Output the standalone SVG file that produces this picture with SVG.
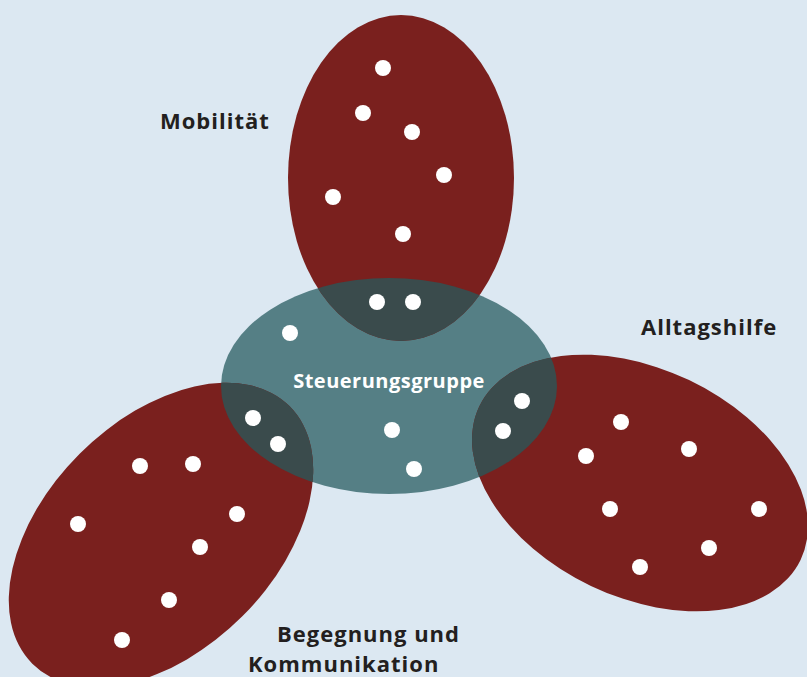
<svg xmlns="http://www.w3.org/2000/svg" width="807" height="677" viewBox="0 0 807 677">
<style>
.red{fill:#7a201e}
.teal{fill:#557f85}
.ov{fill:#3a4b4c}
.dot{fill:#ffffff}
.lbl{font-family:"Open Sans","Noto Sans","Liberation Sans",sans-serif;font-weight:bold;font-size:22px;fill:#231f20;letter-spacing:1px}
.ctr{font-family:"Open Sans","Noto Sans","Liberation Sans",sans-serif;font-weight:bold;font-size:20px;fill:#ffffff;letter-spacing:0.5px}
</style>
<defs>
<clipPath id="tealClip"><ellipse cx="389" cy="386" rx="168" ry="108"/></clipPath>
<ellipse id="eTop" cx="401" cy="178" rx="113" ry="163"/>
<ellipse id="eLeft" cx="0" cy="0" rx="182" ry="115" transform="translate(161 535) rotate(-45)"/>
<ellipse id="eRight" cx="0" cy="0" rx="178" ry="114" transform="translate(640 483) rotate(25.5)"/>
</defs>
<rect x="0" y="0" width="807" height="677" fill="#dce8f2"/>
<g id="steuerungsgruppe">
<ellipse class="teal" cx="389" cy="386" rx="168" ry="108"/>
</g>
<g id="mobilitaet">
<use href="#eTop" class="red"/>
<use href="#eTop" class="ov" clip-path="url(#tealClip)"/>
<circle class="dot" cx="383" cy="68" r="8"/>
<circle class="dot" cx="363" cy="113" r="8"/>
<circle class="dot" cx="412" cy="132" r="8"/>
<circle class="dot" cx="444" cy="175" r="8"/>
<circle class="dot" cx="333" cy="197" r="8"/>
<circle class="dot" cx="403" cy="234" r="8"/>
<circle class="dot" cx="377" cy="302" r="8"/>
<circle class="dot" cx="413" cy="302" r="8"/>
<text class="lbl" x="160" y="129">Mobilität</text>
</g>
<g id="begegnung">
<use href="#eLeft" class="red"/>
<use href="#eLeft" class="ov" clip-path="url(#tealClip)"/>
<circle class="dot" cx="253" cy="418" r="8"/>
<circle class="dot" cx="278" cy="444" r="8"/>
<circle class="dot" cx="140" cy="466" r="8"/>
<circle class="dot" cx="193" cy="464" r="8"/>
<circle class="dot" cx="78" cy="524" r="8"/>
<circle class="dot" cx="237" cy="514" r="8"/>
<circle class="dot" cx="200" cy="547" r="8"/>
<circle class="dot" cx="169" cy="600" r="8"/>
<circle class="dot" cx="122" cy="640" r="8"/>
<text class="lbl" x="277" y="642">Begegnung und</text>
<text class="lbl" x="248" y="672">Kommunikation</text>
</g>
<g id="alltagshilfe">
<use href="#eRight" class="red"/>
<use href="#eRight" class="ov" clip-path="url(#tealClip)"/>
<circle class="dot" cx="522" cy="401" r="8"/>
<circle class="dot" cx="503" cy="431" r="8"/>
<circle class="dot" cx="621" cy="422" r="8"/>
<circle class="dot" cx="586" cy="456" r="8"/>
<circle class="dot" cx="689" cy="449" r="8"/>
<circle class="dot" cx="610" cy="509" r="8"/>
<circle class="dot" cx="759" cy="509" r="8"/>
<circle class="dot" cx="709" cy="548" r="8"/>
<circle class="dot" cx="640" cy="567" r="8"/>
<text class="lbl" x="641" y="335">Alltagshilfe</text>
</g>
<g id="steuerungsgruppe-inhalt">
<circle class="dot" cx="290" cy="333" r="8"/>
<circle class="dot" cx="392" cy="430" r="8"/>
<circle class="dot" cx="414" cy="469" r="8"/>
<text class="ctr" x="389" y="388" text-anchor="middle">Steuerungsgruppe</text>
</g>
</svg>
